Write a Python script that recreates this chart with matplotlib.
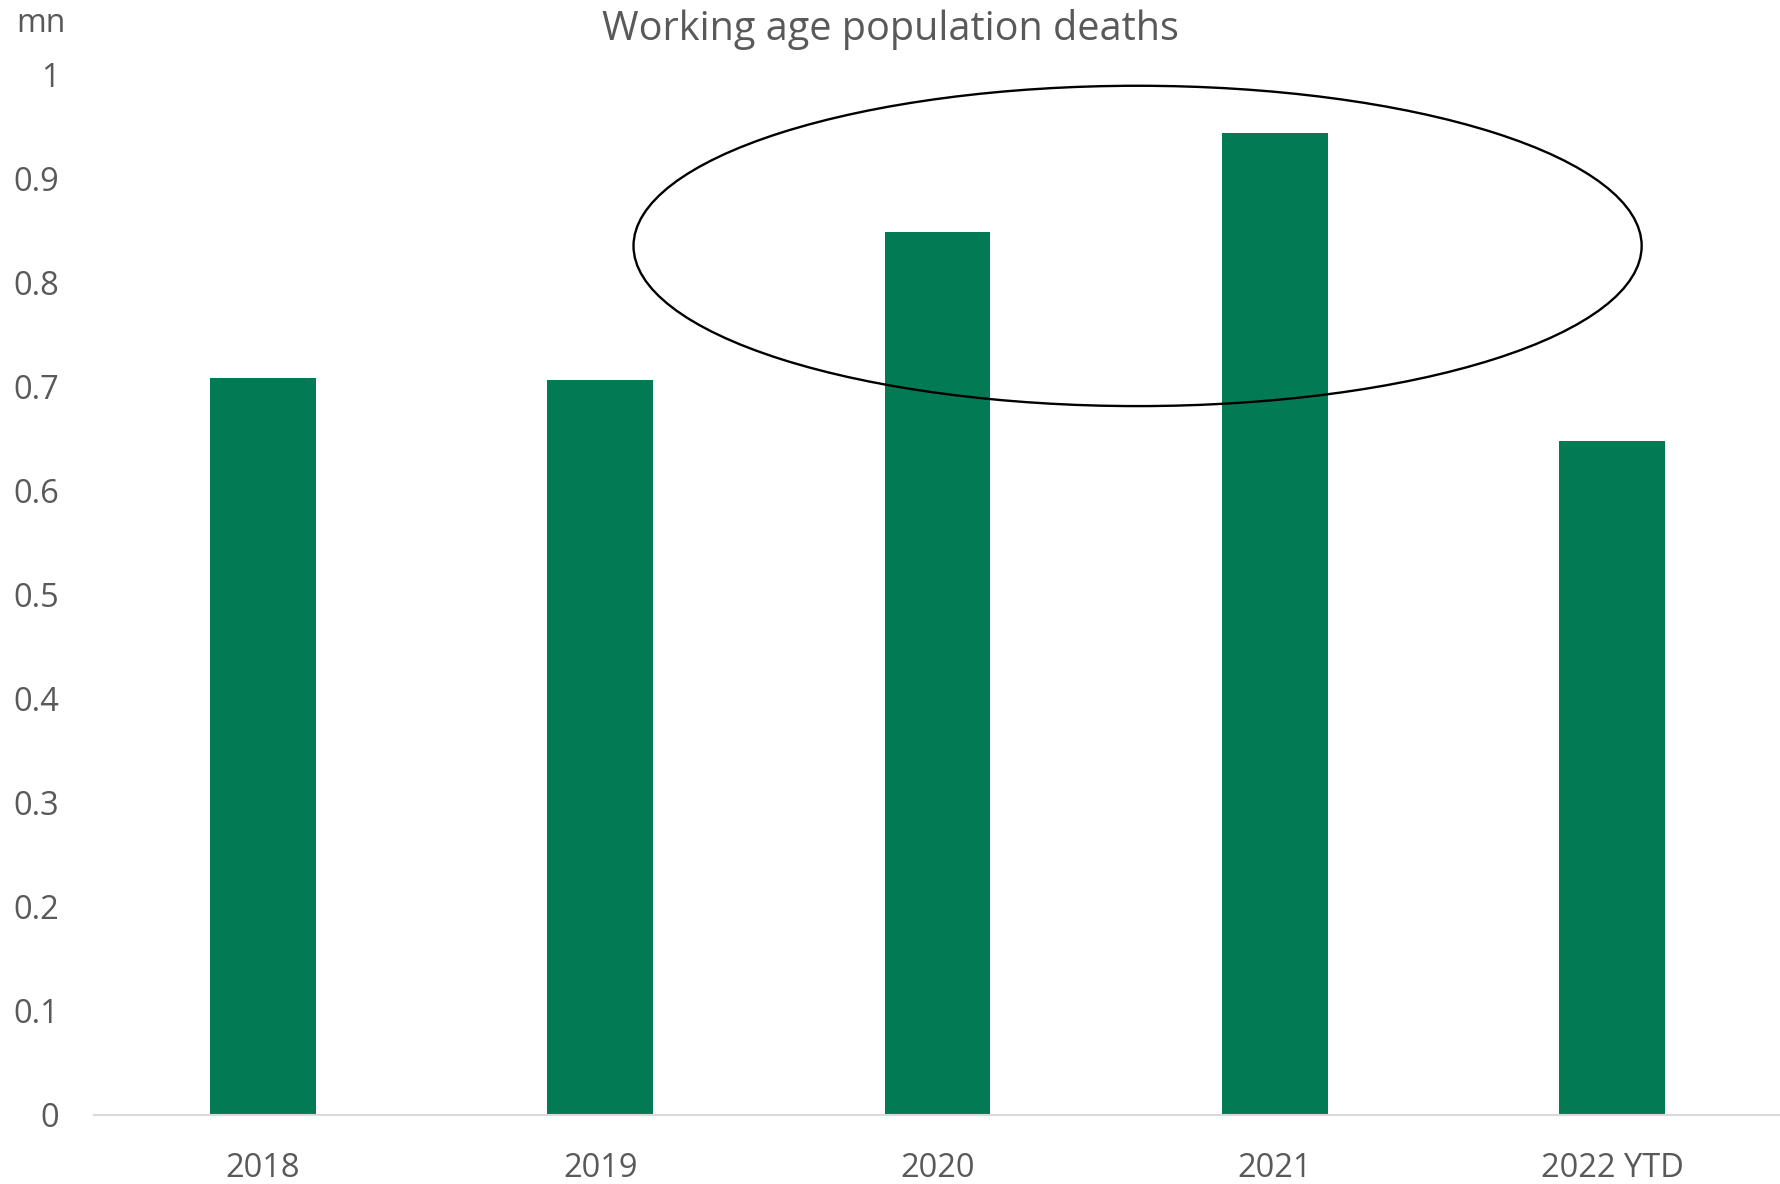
import matplotlib.pyplot as plt
from matplotlib.patches import Ellipse

# Data
years = ['2018', '2019', '2020', '2021', '2022 YTD']
deaths_mn = [0.709, 0.707, 0.849, 0.944, 0.648]

plt.rcParams['font.family'] = ['Open Sans', 'DejaVu Sans']

fig = plt.figure(figsize=(17.81, 11.84), dpi=100)
ax = fig.add_axes([0.0528, 0.0583, 0.9472, 0.8784])

x = range(len(years))
ax.bar(x, deaths_mn, width=0.314, color='#027B55')

# Highlight 2020-2021
ax.add_patch(Ellipse((2.593, 0.8356), 2.988, 0.308, fill=False,
                     edgecolor='black', linewidth=1.7, clip_on=False))

ax.set_xlim(-0.5, 4.5)
ax.set_ylim(0, 1)
ax.set_xticks(list(x))
ax.set_xticklabels(years)
ax.set_yticks([i / 10 for i in range(11)])
ax.set_yticklabels(['0', '0.1', '0.2', '0.3', '0.4', '0.5', '0.6', '0.7', '0.8', '0.9', '1'])

for s in ['top', 'right', 'left']:
    ax.spines[s].set_visible(False)
ax.spines['bottom'].set_color('#d9d9d9')
ax.spines['bottom'].set_linewidth(1.5)

ax.tick_params(axis='both', length=0, labelsize=23.5, labelcolor='#595959')
ax.tick_params(axis='x', pad=26.5)
ax.tick_params(axis='y', pad=25)

fig.text(0.5, 0.975, 'Working age population deaths', ha='center', va='center',
         fontsize=28.5, color='#595959')
fig.text(0.023, 0.980, 'mn', ha='center', va='center', fontsize=23, color='#595959')

fig.savefig('out.png', dpi=100)
